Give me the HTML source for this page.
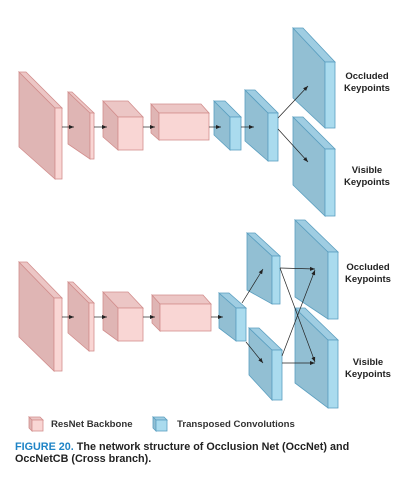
<!DOCTYPE html>
<html><head><style>
html,body{margin:0;padding:0;background:#fff;width:416px;height:479px;overflow:hidden}
svg{display:block}
text{font-family:"Liberation Sans",sans-serif;font-weight:bold}
.ps{fill:#dfb5b4;stroke:#d28e8d;stroke-width:0.8}
.pt{fill:#ecc6c5;stroke:#d28e8d;stroke-width:0.8}
.pf{fill:#f9d6d4;stroke:#d28e8d;stroke-width:0.8}
.bs{fill:#92bfd3;stroke:#5b9fc0;stroke-width:0.8}
.bt{fill:#9fcde2;stroke:#5b9fc0;stroke-width:0.8}
.bf{fill:#aadbee;stroke:#5b9fc0;stroke-width:0.8}
.ln{stroke:#222;stroke-width:0.7;fill:none}
</style></head><body>
<svg width="416" height="479" viewBox="0 0 416 479" xmlns="http://www.w3.org/2000/svg">
<defs><marker id="a" markerWidth="6" markerHeight="6" refX="5" refY="3" orient="auto" markerUnits="userSpaceOnUse"><path d="M0,1 L5,3 L0,5z" fill="#222"/></marker></defs>
<!-- top row -->
<polygon class="ps" points="19,72 55,108 55,179 19,147"/><polygon class="pt" points="19,72 26,72 62,108 55,108"/><rect class="pf" x="55" y="108" width="7" height="71"/>
<polygon class="ps" points="68,92 90,113 90,159 68,144"/><polygon class="pt" points="68,92 72,92 94,113 90,113"/><rect class="pf" x="90" y="113" width="4" height="46"/>
<polygon class="ps" points="103,101 118,117 118,150 103,137"/><polygon class="pt" points="103,101 128,101 143,117 118,117"/><rect class="pf" x="118" y="117" width="25" height="33"/>
<polygon class="ps" points="151,104 159,113 159,140 151,133"/><polygon class="pt" points="151,104 201,104 209,113 159,113"/><rect class="pf" x="159" y="113" width="50" height="27"/>
<polygon class="bs" points="214,101 230,117 230,150 214,135"/><polygon class="bt" points="214,101 225,101 241,117 230,117"/><rect class="bf" x="230" y="117" width="11" height="33"/>
<polygon class="bs" points="245,90 268,113 268,161 245,141"/><polygon class="bt" points="245,90 255,90 278,113 268,113"/><rect class="bf" x="268" y="113" width="10" height="48"/>
<polygon class="bs" points="293,28 325,62 325,128 293,98"/><polygon class="bt" points="293,28 303,28 335,62 325,62"/><rect class="bf" x="325" y="62" width="10" height="66"/>
<polygon class="bs" points="293,117 325,149 325,216 293,185"/><polygon class="bt" points="293,117 303,117 335,149 325,149"/><rect class="bf" x="325" y="149" width="10" height="67"/>
<line class="ln" x1="62" y1="127" x2="74" y2="127" marker-end="url(#a)"/>
<line class="ln" x1="94" y1="127" x2="107" y2="127" marker-end="url(#a)"/>
<line class="ln" x1="143" y1="127" x2="155" y2="127" marker-end="url(#a)"/>
<line class="ln" x1="209" y1="127" x2="221" y2="127" marker-end="url(#a)"/>
<line class="ln" x1="241" y1="127" x2="254" y2="127" marker-end="url(#a)"/>
<line class="ln" x1="278" y1="118" x2="308" y2="86" marker-end="url(#a)"/>
<line class="ln" x1="278" y1="129" x2="308" y2="162" marker-end="url(#a)"/>
<text x="367" y="79" font-size="9.5" text-anchor="middle" fill="#222">Occluded</text>
<text x="367" y="91" font-size="9.5" text-anchor="middle" fill="#222">Keypoints</text>
<text x="367" y="173" font-size="9.5" text-anchor="middle" fill="#222">Visible</text>
<text x="367" y="185" font-size="9.5" text-anchor="middle" fill="#222">Keypoints</text>
<!-- bottom row -->
<polygon class="ps" points="19,262 54,298 54,371 19,337"/><polygon class="pt" points="19,262 27,262 62,298 54,298"/><rect class="pf" x="54" y="298" width="8" height="73"/>
<polygon class="ps" points="68,282 89,303 89,351 68,333"/><polygon class="pt" points="68,282 73,282 94,303 89,303"/><rect class="pf" x="89" y="303" width="5" height="48"/>
<polygon class="ps" points="103,292 118,308 118,341 103,330"/><polygon class="pt" points="103,292 128,292 143,308 118,308"/><rect class="pf" x="118" y="308" width="25" height="33"/>
<polygon class="ps" points="152,295 160,304 160,331 152,323"/><polygon class="pt" points="152,295 203,295 211,304 160,304"/><rect class="pf" x="160" y="304" width="51" height="27"/>
<polygon class="bs" points="219,293 236,308 236,341 219,328"/><polygon class="bt" points="219,293 229,293 246,308 236,308"/><rect class="bf" x="236" y="308" width="10" height="33"/>
<polygon class="bs" points="247,233 272,256 272,304 247,290"/><polygon class="bt" points="247,233 255,233 280,256 272,256"/><rect class="bf" x="272" y="256" width="8" height="48"/>
<polygon class="bs" points="249,328 272,350 272,400 249,375"/><polygon class="bt" points="249,328 259,328 282,350 272,350"/><rect class="bf" x="272" y="350" width="10" height="50"/>
<polygon class="bs" points="295,220 328,252 328,319 295,297"/><polygon class="bt" points="295,220 305,220 338,252 328,252"/><rect class="bf" x="328" y="252" width="10" height="67"/>
<polygon class="bs" points="295,308 328,340 328,408 295,383"/><polygon class="bt" points="295,308 305,308 338,340 328,340"/><rect class="bf" x="328" y="340" width="10" height="68"/>
<line class="ln" x1="62" y1="317" x2="74" y2="317" marker-end="url(#a)"/>
<line class="ln" x1="94" y1="317" x2="107" y2="317" marker-end="url(#a)"/>
<line class="ln" x1="143" y1="317" x2="155" y2="317" marker-end="url(#a)"/>
<line class="ln" x1="211" y1="317" x2="223" y2="317" marker-end="url(#a)"/>
<line class="ln" x1="242" y1="303" x2="263" y2="269" marker-end="url(#a)"/>
<line class="ln" x1="246" y1="342" x2="263" y2="363" marker-end="url(#a)"/>
<line class="ln" x1="280" y1="268" x2="315" y2="269" marker-end="url(#a)"/>
<line class="ln" x1="280" y1="268" x2="315" y2="362" marker-end="url(#a)"/>
<line class="ln" x1="282" y1="363" x2="315" y2="363" marker-end="url(#a)"/>
<line class="ln" x1="282" y1="356" x2="315" y2="270" marker-end="url(#a)"/>
<text x="368" y="270" font-size="9.5" text-anchor="middle" fill="#222">Occluded</text>
<text x="368" y="282" font-size="9.5" text-anchor="middle" fill="#222">Keypoints</text>
<text x="368" y="365" font-size="9.5" text-anchor="middle" fill="#222">Visible</text>
<text x="368" y="377" font-size="9.5" text-anchor="middle" fill="#222">Keypoints</text>
<!-- legend -->
<polygon class="ps" points="29,417 32,420 32,431 29,428"/><polygon class="pt" points="29,417 40,417 43,420 32,420"/><rect class="pf" x="32" y="420" width="11" height="11"/>
<text x="51" y="427" font-size="9.6" fill="#333">ResNet Backbone</text>
<polygon class="bs" points="153,417 156,420 156,431 153,428"/><polygon class="bt" points="153,417 164,417 167,420 156,420"/><rect class="bf" x="156" y="420" width="11" height="11"/>
<text x="177" y="427" font-size="9.6" fill="#333">Transposed Convolutions</text>
<text x="15" y="450" font-size="10.8" fill="#222"><tspan fill="#1f84c6">FIGURE 20.</tspan> The network structure of Occlusion Net (OccNet) and</text>
<text x="15" y="462" font-size="10.8" fill="#222">OccNetCB (Cross branch).</text>
</svg>
</body></html>
